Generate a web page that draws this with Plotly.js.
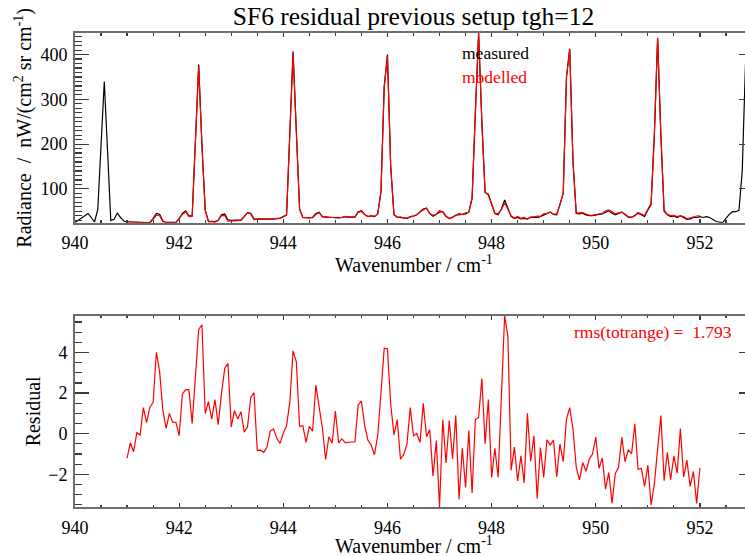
<!DOCTYPE html>
<html>
<head>
<meta charset="utf-8">
<script src="https://cdn.plot.ly/plotly-3.0.1.min.js"></script>
<style>
html,body{margin:0;padding:0;width:745px;height:556px;overflow:hidden;background:#fff;}
#chart{width:770px;height:556px;}
</style>
</head>
<body>
<div id="chart"></div>
<script>
// Wavenumber grid (cm^-1)
const wnStart = 940.0;
const wnStep = 0.0625;
const modStart = 941.0;

// Measured radiance, 940.0 .. 953.0 cm-1
const measured = [
25,30,36,41,45,36,26,54,195,340,185,29,32,46,36,28,
26,26,25.5,25.5,25,25,24.5,24.5,34,45,43,28,25,24.5,24.5,25,
33,45,51,40,39,210,378,200,53,28,27.5,27,30,42,44,31,
29.5,29.5,29.5,30.5,38,47,45.5,33,32.5,32,33,32.5,32.5,33,33,34,
38,42,225,407,230,55,36,35,35,36,45,48,38,37,36,36,
36,35,36,38,37,37,37,49,51,43,38,39.5,38,44,94,330,
400,150,42,37,36,34,34,38,39,42,48,55,57,45,39,43,
48,49,38,34,36,41,42,42,44,48,78,270,448,250,92,88,
65,45,42,55,75,58,38,34,36,33,34,33,36,37,36,38,
42,45,48,43,42,64,90,350,413,160,45,44,45.5,42,40,40,
42,43,44,48,51,45.5,42,45,48,42,37,36,40,45.5,42,38,
53,65,220,437,220,50,42,38,39.5,36,40,36,32,33,36,36,
38,36,38,36,31,27,25.5,24.6,34,43,49,49,52,140,380,250,
60
];

// Modelled radiance, 941.0 .. 952.0 cm-1
const modelled = [
27.2,26.5,26.4,25.5,25.1,23.7,24.0,23.2,32.5,41.0,40.0,26.9,24.7,23.5,23.9,24.4,
33.1,43.0,48.8,37.8,38.5,207.2,372.9,194.6,52.0,26.4,26.8,25.3,29.6,40.0,40.8,27.5,
29.2,28.4,28.8,29.4,37.9,46.7,43.7,31.0,33.3,32.8,33.9,33.1,32.4,32.8,33.2,34.5,
38.0,41.6,223.5,402.9,226.5,54.6,35.6,35.4,34.6,35.9,42.6,46.7,37.7,38.3,36.2,36.5,
34.9,35.5,36.3,38.4,37.4,37.4,37.4,47.6,49.4,42.6,38.3,40.1,39.0,44.1,92.0,325.8,
395.8,148.6,42.1,36.3,37.3,35.0,34.5,36.7,39.1,42.0,48.4,53.5,57.2,44.8,41.1,43.3,
51.6,48.3,39.4,33.4,37.2,40.1,45.2,42.7,46.7,47.8,80.9,269.3,447.2,247.3,92.5,86.3,
67.2,45.7,44.1,53.5,69.2,53.2,39.8,34.7,38.3,34.1,36.4,32.0,37.4,37.1,39.2,38.7,
44.2,45.3,48.6,43.3,44.1,64.5,91.4,349.3,411.7,159.8,46.7,46.3,46.9,43.9,41.3,41.0,
42.2,44.7,45.2,50.7,52.9,48.9,44.0,46.7,48.2,43.4,37.8,37.0,39.5,47.3,43.7,40.6,
54.6,68.5,222.5,437.8,219.1,52.3,42.9,40.3,40.6,37.9,39.8,38.1,33.3,35.6,37.9,39.4,
39.7
];

// Residual (measured - modelled), 941.0 .. 952.0 cm-1
const residual = [
-1.20,-0.45,-0.89,0.05,-0.07,1.28,0.54,1.32,1.53,4.01,3.04,1.15,0.26,1.00,0.57,0.56,
-0.10,1.96,2.17,2.17,0.51,2.80,5.13,5.36,0.99,1.58,0.72,1.68,0.44,1.97,3.21,3.46,
0.33,1.13,0.72,1.08,0.08,0.34,1.78,2.02,-0.82,-0.81,-0.92,-0.64,0.13,0.23,-0.23,-0.48,
0.03,0.39,1.55,4.08,3.54,0.36,0.39,-0.43,0.36,0.13,2.39,1.32,0.28,-1.27,-0.15,-0.47,
1.12,-0.45,-0.26,-0.44,-0.41,-0.41,-0.41,1.41,1.61,0.40,-0.32,-0.56,-1.04,-0.10,2.00,4.21,
4.18,1.45,-0.06,0.69,-1.26,-1.02,-0.50,1.28,-0.10,0.01,-0.43,1.49,-0.15,0.20,-2.09,-0.34,
-3.61,0.70,-1.44,0.65,-1.24,0.90,-3.23,-0.72,-2.65,0.16,-2.92,0.70,0.80,2.72,-0.50,1.68,
-2.15,-0.72,-2.14,1.50,5.81,4.80,-1.80,-0.66,-2.33,-1.09,-2.42,1.00,-1.36,-0.10,-3.19,-0.68,
-2.16,-0.30,-0.56,-0.31,-2.13,-0.51,-1.38,0.72,1.28,0.23,-1.66,-2.27,-1.42,-1.85,-1.25,-1.00,
-0.17,-1.70,-1.20,-2.73,-1.91,-3.43,-1.96,-1.66,-0.18,-1.38,-0.79,-1.00,0.49,-1.75,-1.71,-2.60,
-1.55,-3.51,-2.47,-0.76,0.89,-2.32,-0.92,-2.27,-1.09,-1.94,0.25,-2.13,-1.30,-2.60,-1.86,-3.43,
-1.68
];

const rmsText = 'rms(totrange) =\u00a0 1.793';
const xTitle = 'Wavenumber / cm<sup>-1</sup>';
const xRange = [940, 953];
const radRange = [24.4, 448.3];
const resRange = [-3.61, 5.81];
const radTicks = [100, 200, 300, 400];
const resTicks = [-2, 0, 2, 4];

const serif = 'Liberation Serif, Times New Roman, serif';
const lineCol = '#6e6e6e';
const tickCol = '#3a3a3a';

function xAxis(anchor) {
  return {
    anchor: anchor, range: xRange, domain: [0, 1],
    showline: true, linecolor: lineCol, linewidth: 2, mirror: 'ticks',
    ticks: 'inside', ticklen: 4, tickwidth: 1.2, tickcolor: tickCol,
    dtick: 2, tick0: 940, showgrid: false, zeroline: false,
    ticklabelstandoff: 3,
    tickfont: {family: serif, size: 18, color: '#000'},
    minor: {dtick: 0.5, ticks: 'inside', ticklen: 2.5, tickwidth: 1.2, tickcolor: tickCol, showgrid: false}
  };
}
function yAxis(anchor, domain, range, tickvals, minorDtick, title, standoff) {
  return {
    anchor: anchor, domain: domain, range: range,
    showline: true, linecolor: lineCol, linewidth: 2, mirror: 'ticks',
    ticks: 'inside', ticklen: 13.5, tickwidth: 1.2, tickcolor: tickCol,
    tickvals: tickvals, showgrid: false, zeroline: false,
    ticklabelstandoff: 2,
    tickfont: {family: serif, size: 18, color: '#000'},
    minor: {dtick: minorDtick, ticks: 'inside', ticklen: 7, tickwidth: 1.2, tickcolor: tickCol, showgrid: false},
    title: {text: title, font: {family: serif, size: 20, color: '#000'}, standoff: standoff}
  };
}

const traces = [
  {type: 'scatter', mode: 'lines', name: 'measured', x0: wnStart, dx: wnStep, y: measured,
   xaxis: 'x', yaxis: 'y', line: {color: '#000', width: 1.2}},
  {type: 'scatter', mode: 'lines', name: 'modelled', x0: modStart, dx: wnStep, y: modelled,
   xaxis: 'x', yaxis: 'y', line: {color: '#ff0000', width: 1.2}},
  {type: 'scatter', mode: 'lines', name: 'residual', x0: modStart, dx: wnStep, y: residual,
   xaxis: 'x2', yaxis: 'y2', line: {color: '#ff0000', width: 1.2}}
];

const layout = {
  width: 770, height: 556,
  margin: {l: 75.3, r: 17.5, t: 33, b: 49},
  paper_bgcolor: '#fff', plot_bgcolor: '#fff',
  showlegend: false,
  font: {family: serif, color: '#000'},
  title: {text: 'SF6 residual previous setup tgh=12', font: {family: serif, size: 25.5, color: '#000'},
          x: 0.5, xref: 'paper', y: 1 - 16 / 556, yref: 'container', yanchor: 'middle'},
  xaxis: xAxis('y'),
  yaxis: yAxis('x', [0.5998, 1], radRange, radTicks, 10,
     'Radiance\u00a0 /\u00a0 nW/(cm<sup>2</sup> sr cm<sup>-1</sup>)', 3),
  xaxis2: xAxis('y2'),
  yaxis2: yAxis('x2', [0, 0.4036], resRange, resTicks, 0.5, 'Residual', 2),
  annotations: [
    {text: xTitle, xref: 'paper', yref: 'paper', x: 0.5, y: (507 - 264) / 474, xanchor: 'center', yanchor: 'middle',
     showarrow: false, font: {family: serif, size: 20, color: '#000'}},
    {text: xTitle, xref: 'paper', yref: 'paper', x: 0.5, y: (507 - 544.5) / 474, xanchor: 'center', yanchor: 'middle',
     showarrow: false, font: {family: serif, size: 20, color: '#000'}},
    {text: 'measured', xref: 'x', yref: 'y', x: 947.4, y: 404, xanchor: 'left', yanchor: 'middle',
     showarrow: false, font: {family: serif, size: 17.5, color: '#000'}},
    {text: 'modelled', xref: 'x', yref: 'y', x: 947.4, y: 351, xanchor: 'left', yanchor: 'middle',
     showarrow: false, font: {family: serif, size: 17.5, color: '#ff0000'}},
    {text: rmsText, xref: 'x2', yref: 'y2', x: 952.65, y: 5.02, xanchor: 'right', yanchor: 'middle',
     showarrow: false, font: {family: serif, size: 17.5, color: '#ff0000'}}
  ]
};

Plotly.newPlot('chart', traces, layout, {staticPlot: true, displayModeBar: false});
</script>
</body>
</html>
